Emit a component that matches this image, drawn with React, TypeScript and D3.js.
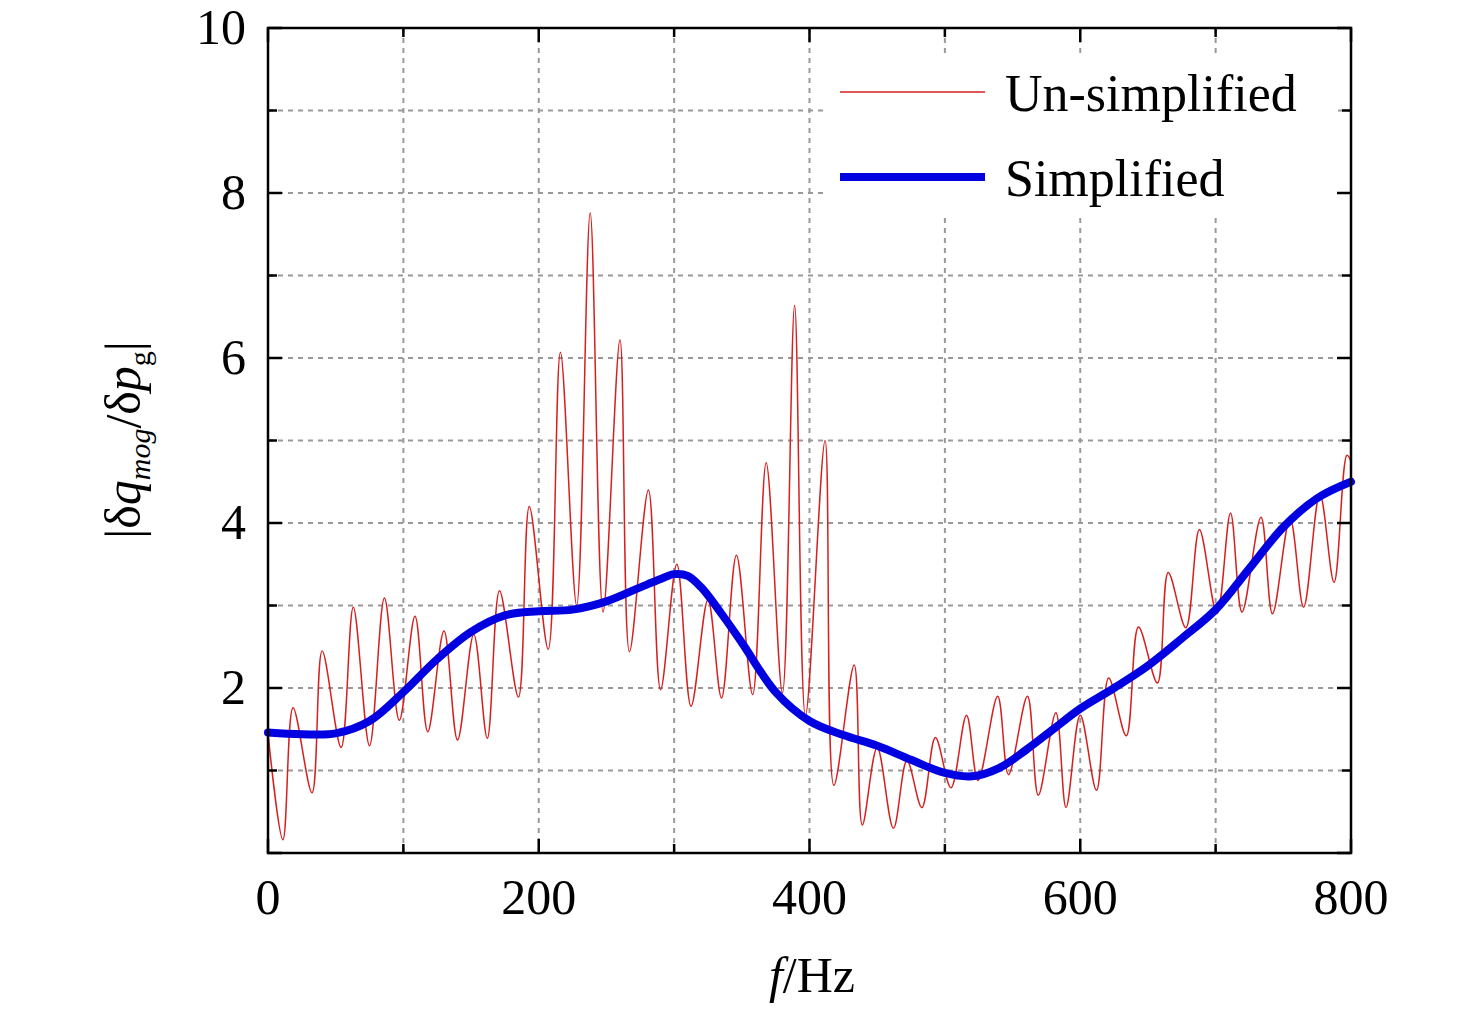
import React from "react";
import * as d3 from "d3";

const redF = [0,11,18.5,32.5,40,54,63,75,86,97,108.6,118,130,140,152,162,171,185,193,207,216,228,238,247.5,260,267,281,290,302,312.5,325,335,346,358,368,380,389,397,411.5,418,433,439,450,462,472,483,493,504.5,516,524.5,539,547,561,569,582,589.5,600,612,621,634,643,657,665,678,688,701,711,719.5,733.5,742,755,765,777,787.5,797,800];
const redV = [1.45,0.16,1.76,0.73,2.45,1.28,2.98,1.3,3.09,1.61,2.87,1.47,2.69,1.37,2.65,1.39,3.18,1.89,4.2,2.47,6.07,3.0,7.76,2.92,6.22,2.44,4.4,1.98,3.5,1.78,3.07,1.88,3.61,1.92,4.73,1.94,6.64,1.66,5.0,0.82,2.28,0.34,1.28,0.3,1.12,0.55,1.4,0.79,1.67,0.88,1.9,0.95,1.9,0.7,1.7,0.55,1.67,0.76,2.12,1.42,2.74,2.06,3.4,2.73,3.92,2.9,4.12,2.92,4.07,2.9,4.05,2.98,4.35,3.28,4.82,4.75];
const blueF = [0,25,50,75,100,125,150,175,200,225,250,275,290,300,310,320,335,350,375,400,425,450,475,500,520,540,560,580,600,625,650,675,700,725,750,775,800];
const blueV = [1.46,1.44,1.45,1.6,1.95,2.35,2.68,2.88,2.93,2.95,3.05,3.22,3.32,3.38,3.36,3.22,2.9,2.55,1.95,1.6,1.43,1.3,1.13,0.97,0.93,1.03,1.25,1.5,1.75,2.0,2.27,2.6,2.95,3.45,3.95,4.3,4.5];
const xTicks = [0,200,400,600,800];
const yTicks = [2,4,6,8,10];

export default function App() {
  const L = 268, R = 1351, T = 28, B = 853;
  const x = d3.scaleLinear().domain([0, 800]).range([L, R]);
  const y = d3.scaleLinear().domain([0, 10]).range([B, T]);
  const line = d3.line<[number, number]>().x(d => x(d[0])).y(d => y(d[1])).curve(d3.curveCatmullRom.alpha(0.5));
  const red = line(redF.map((f, i) => [f, redV[i]]) as [number, number][])!;
  const blue = line(blueF.map((f, i) => [f, blueV[i]]) as [number, number][])!;
  const font = "'Liberation Serif', 'Times New Roman', serif";
  const gx = d3.range(100, 800, 100);
  const gy = d3.range(1, 10, 1);
  return (
    <svg width={1476} height={1009} style={{ position: "absolute", left: 0, top: 0, background: "#fff" }}>
      <g stroke="#999" strokeWidth={2} strokeDasharray="5,5">
        {gx.map(v => <line key={"gx" + v} x1={x(v)} x2={x(v)} y1={T} y2={B} />)}
        {gy.map(v => <line key={"gy" + v} x1={L} x2={R} y1={y(v)} y2={y(v)} />)}
      </g>
      <rect x={828} y={55} width={510} height={160} fill="#fff" />
      <path d={red} fill="none" stroke="#d62020" strokeWidth={1.5} />
      <path d={blue} fill="none" stroke="#0000e0" strokeWidth={8} strokeLinecap="round" />
      <g stroke="#000" strokeWidth={2.5}>
        {d3.range(0, 801, 100).map(v => {
          const len = v % 200 === 0 ? 14 : 9;
          return <g key={"tx" + v}>
            <line x1={x(v)} x2={x(v)} y1={B} y2={B - len} />
            <line x1={x(v)} x2={x(v)} y1={T} y2={T + len} />
          </g>;
        })}
        {d3.range(0, 11, 1).map(v => {
          const len = v % 2 === 0 ? 14 : 9;
          return <g key={"ty" + v}>
            <line x1={L} x2={L + len} y1={y(v)} y2={y(v)} />
            <line x1={R} x2={R - len} y1={y(v)} y2={y(v)} />
          </g>;
        })}
      </g>
      <rect x={L} y={T} width={R - L} height={B - T} fill="none" stroke="#000" strokeWidth={2.5} />
      <g fontFamily={font} fontSize={50} fill="#000">
        {xTicks.map(v => <text key={"xl" + v} x={x(v)} y={914} textAnchor="middle">{v}</text>)}
        {yTicks.map(v => <text key={"yl" + v} x={246} y={y(v) + 16} textAnchor="end">{v}</text>)}
      </g>
      <text x={812} y={992} textAnchor="middle" fontFamily={font} fontSize={50}>
        <tspan fontStyle="italic">f</tspan>/Hz
      </text>
      <g transform="translate(140,440) rotate(-90)">
        <text x={0} y={0} textAnchor="middle" fontFamily={font} fontSize={50}>
          |δ<tspan fontStyle="italic">q</tspan><tspan fontSize={30} dy={10} fontStyle="italic">mog</tspan>
          <tspan dy={-10}>/δ</tspan><tspan fontStyle="italic">p</tspan><tspan fontSize={30} dy={10}>g</tspan><tspan dy={-10}>|</tspan>
        </text>
      </g>
      <line x1={840} x2={985} y1={92} y2={92} stroke="#d62020" strokeWidth={1.5} />
      <line x1={840} x2={985} y1={177} y2={177} stroke="#0000e0" strokeWidth={8} />
      <g fontFamily={font} fontSize={52}>
        <text x={1005} y={111}>Un-simplified</text>
        <text x={1005} y={196}>Simplified</text>
      </g>
    </svg>
  );
}
